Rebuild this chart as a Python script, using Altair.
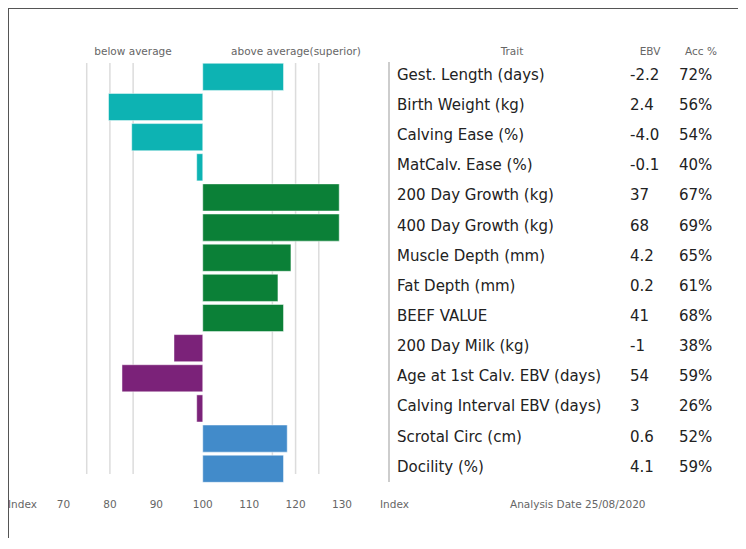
import altair as alt
import pandas as pd

traits = ["Gest. Length (days)", "Birth Weight (kg)", "Calving Ease (%)", "MatCalv. Ease (%)",
          "200 Day Growth (kg)", "400 Day Growth (kg)", "Muscle Depth (mm)", "Fat Depth (mm)",
          "BEEF VALUE", "200 Day Milk (kg)", "Age at 1st Calv. EBV (days)",
          "Calving Interval EBV (days)", "Scrotal Circ (cm)", "Docility (%)"]
index_vals = [117.4, 79.7, 84.7, 98.7, 129.4, 129.4, 119.0, 116.2, 117.4, 93.8, 82.6, 98.7, 118.2, 117.4]
groups = ["Calving", "Calving", "Calving", "Calving", "Growth", "Growth", "Growth", "Growth",
          "Growth", "Maternal", "Maternal", "Maternal", "Other", "Other"]
ebv = ["-2.2", "2.4", "-4.0", "-0.1", "37", "68", "4.2", "0.2", "41", "-1", "54", "3", "0.6", "4.1"]
acc = ["72%", "56%", "54%", "40%", "67%", "69%", "65%", "61%", "68%", "38%", "59%", "26%", "52%", "59%"]
group_names = ["Calving", "Growth", "Maternal", "Other"]
group_colors = ["#0db3b3", "#0b8037", "#7b2279", "#428bca"]
grid_vals = [75, 80, 85, 115, 120, 125]
tick_vals = [70, 80, 90, 100, 110, 120, 130]
tick_labels = ["70", "80", "90", "100", "110", "120", "130"]
average = 100

df = pd.DataFrame({"trait": traits, "index": index_vals, "group": groups,
                   "ebv": ebv, "acc": acc, "base": [average] * len(traits)})
grid_df = pd.DataFrame({"g": grid_vals})
tick_df = pd.DataFrame({"v": tick_vals, "label": tick_labels})

W, H = 730, 530
FONT = "DejaVu Sans"
TS = 15
SS = 10.5

xs = alt.Scale(domain=[70, 130], range=[55.5, 334])
ys = alt.Scale(domain=traits, range=[55.3, 474.3], paddingInner=0.1, paddingOuter=0)

base = alt.Chart(df)

grid = alt.Chart(grid_df).mark_rule(color="#dcdcdc", strokeWidth=1.5).encode(
    x=alt.X("g:Q", scale=xs, axis=None),
    y=alt.value(55), y2=alt.value(466))

bars = base.mark_bar(stroke="white", strokeWidth=0.8, strokeOpacity=0.6).encode(
    x=alt.X("index:Q", scale=xs, axis=None),
    x2="base:Q",
    y=alt.Y("trait:N", scale=ys, axis=None, sort=traits),
    color=alt.Color("group:N", scale=alt.Scale(domain=group_names, range=group_colors), legend=None))

def col(field, x):
    return base.mark_text(align="left", baseline="middle", font=FONT, fontSize=TS,
                          color="#222", dy=-2).encode(
        x=alt.value(x), y=alt.Y("trait:N", scale=ys, axis=None, sort=traits), text=f"{field}:N")

trait_txt = col("trait", 389)
ebv_txt = col("ebv", 622)
acc_txt = col("acc", 671)

sep = base.mark_rule(color="#cccccc", strokeWidth=1.5).encode(
    x=alt.value(381), y=alt.value(54), y2=alt.value(474))

ticks = alt.Chart(tick_df).mark_text(font=FONT, fontSize=SS, color="#666", baseline="middle").encode(
    x=alt.X("v:Q", scale=xs, axis=None), y=alt.value(497), text="label:N")

def label(text, x, y, align="center", size=SS, color="#666"):
    return alt.Chart(pd.DataFrame({"t": [text]})).mark_text(
        font=FONT, fontSize=size, color=color, align=align, baseline="middle").encode(
        x=alt.value(x), y=alt.value(y), text="t:N")

labels = [
    label("below average", 125, 43.7),
    label("above average(superior)", 288, 43.7),
    label("Trait", 504, 43.7),
    label("EBV", 642, 43.7),
    label("Acc %", 693, 43.7),
    label("Index", 0, 497, align="left"),
    label("Index", 372, 497, align="left"),
    label("Analysis Date 25/08/2020", 502, 497, align="left"),
]

frame_top = alt.Chart(pd.DataFrame({"a": [0]})).mark_rule(color="#555", strokeWidth=2).encode(
    x=alt.value(0), x2=alt.value(W), y=alt.value(0))
frame_left = alt.Chart(pd.DataFrame({"a": [0]})).mark_rule(color="#555", strokeWidth=2).encode(
    x=alt.value(0), y=alt.value(0), y2=alt.value(H))

chart = alt.layer(grid, bars, sep, trait_txt, ebv_txt, acc_txt, ticks, *labels,
                  frame_top, frame_left).properties(
    width=W, height=H, padding=0, autosize=alt.AutoSizeParams(type="none"),
    background="white"
).configure_view(strokeWidth=0)

chart.save("out.html", embed_options={"renderer": "svg", "actions": False})
